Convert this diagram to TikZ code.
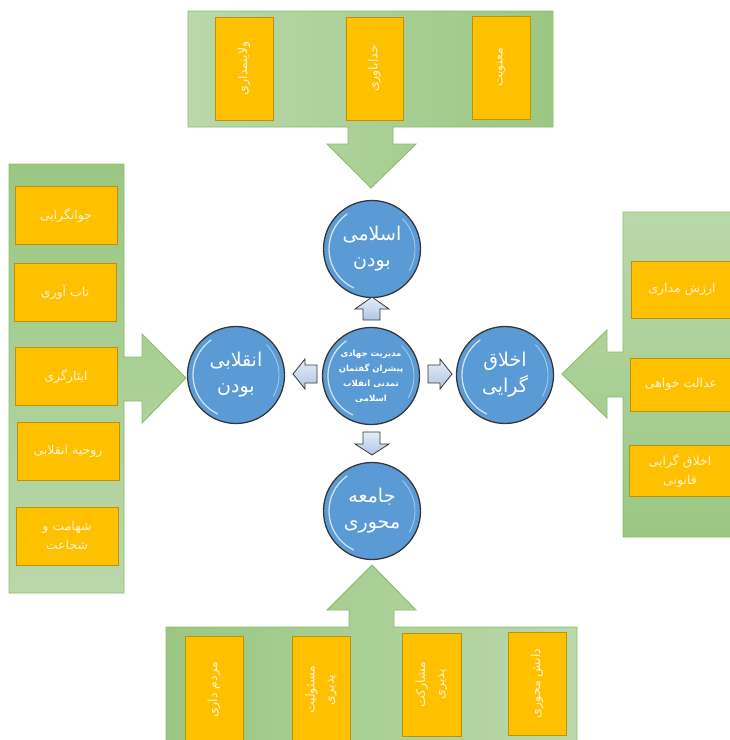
\documentclass[tikz,border=0pt]{standalone}
\usepackage{fontspec}
\newfontfamily\arabicfont[Script=Arabic]{DejaVu Sans}
\TeXXeTstate=1
\definecolor{gdark}{RGB}{155,199,130}
\definecolor{glight}{RGB}{186,216,170}
\definecolor{gline}{RGB}{138,188,108}
\definecolor{ybox}{RGB}{255,192,0}
\definecolor{yline}{RGB}{190,145,10}
\definecolor{ytext}{RGB}{255,244,214}
\definecolor{cblue}{RGB}{91,155,213}
\definecolor{cline}{RGB}{55,55,55}
\definecolor{alight}{RGB}{228,236,247}
\definecolor{amid}{RGB}{176,198,228}
\newcommand{\artx}[1]{{\arabicfont\beginR #1\endR}}
\tikzset{
  panel/.style={draw=gline, line width=0.9pt},
  ybx/.style={rectangle, fill=ybox, draw=yline, line width=0.9pt, text=ytext,
    font=\arabicfont\fontsize{12.5}{19}\selectfont, align=center, inner sep=1pt},
  circ/.style={circle, minimum size=97pt, fill=cblue, draw=cline, line width=1.3pt,
    text=white, font=\arabicfont\fontsize{19}{26}\selectfont, align=center, inner sep=0pt},
  smarrow/.style={draw=cline, line width=0.8pt, top color=alight, bottom color=amid},
  hilite/.style={white, opacity=0.7, line width=1.3pt}
}
\begin{document}
\begin{tikzpicture}[x=1pt,y=-1pt]
\useasboundingbox (0,0) rectangle (730,740);
\begin{scope}
\clip (0,0) rectangle (730,740);
% top panel with arrow
\path[panel, left color=glight, right color=gdark]
  (188,11) -- (553,11) -- (553,127) -- (393,127) -- (393,144) -- (416,144) -- (371,188)
  -- (327,144) -- (348,144) -- (348,127) -- (188,127) -- cycle;
% left panel with arrow
\path[panel, top color=gdark, bottom color=glight]
  (9,164) -- (124,164) -- (124,357) -- (142,357) -- (142,334) -- (186,378) -- (142,423)
  -- (142,401) -- (124,401) -- (124,593) -- (9,593) -- cycle;
% right panel with arrow
\path[panel, top color=glight, bottom color=gdark]
  (623,212) -- (745,212) -- (745,537) -- (623,537) -- (623,397) -- (607,397) -- (607,418)
  -- (562,374) -- (607,330) -- (607,352) -- (623,352) -- cycle;
% bottom panel with arrow
\path[panel, left color=gdark, right color=glight]
  (166,627) -- (349,627) -- (349,610) -- (327,610) -- (372,565) -- (416,610) -- (394,610)
  -- (394,627) -- (577,627) -- (577,750) -- (166,750) -- cycle;

% top boxes
\node[ybx, rotate=90, minimum width=103pt, minimum height=58pt] (t1) at (244,68.5) {\artx{ولایتمداری}};
\node[ybx, rotate=90, minimum width=103pt, minimum height=57pt] (t2) at (374.5,68.5) {\artx{خداباوری}};
\node[ybx, rotate=90, minimum width=103pt, minimum height=58pt] (t3) at (501,67.5) {\artx{معنویت}};

% left boxes
\node[ybx, minimum width=102pt, minimum height=58pt] (l1) at (66,215) {\artx{جوانگرایی}};
\node[ybx, minimum width=102pt, minimum height=58pt] (l2) at (65,292) {\artx{تاب آوری}};
\node[ybx, minimum width=102pt, minimum height=58pt] (l3) at (66,376) {\artx{ایثارگری}};
\node[ybx, minimum width=102pt, minimum height=58pt] (l4) at (68,451) {\artx{روحیه انقلابی}};
\node[ybx, minimum width=102pt, minimum height=58pt] (l5) at (67,536) {\artx{شهامت و}\\\artx{شجاعت}};

% right boxes
\node[ybx, minimum width=102pt, minimum height=57pt] (r1) at (682,289.5) {\artx{ارزش مداری}};
\node[ybx, minimum width=102pt, minimum height=53pt] (r2) at (681,384.5) {\artx{عدالت خواهی}};
\node[ybx, minimum width=102pt, minimum height=51pt] (r3) at (680,470.5) {\artx{اخلاق گرایی}\\\artx{قانونی}};

% bottom boxes
\node[ybx, rotate=90, minimum width=108pt, minimum height=58pt] (b1) at (214,690) {\artx{مردم داری}};
\node[ybx, rotate=90, minimum width=108pt, minimum height=58pt] (b2) at (321,690) {\artx{مسئولیت}\\\artx{پذیری}};
\node[ybx, rotate=90, minimum width=103pt, minimum height=59pt] (b3) at (431.5,684.5) {\artx{مشارکت}\\\artx{پذیری}};
\node[ybx, rotate=90, minimum width=103pt, minimum height=58pt] (b4) at (537,683.5) {\artx{دانش محوری}};
\end{scope}

% circles
\node[circ, font=\arabicfont\bfseries\fontsize{8.5}{15}\selectfont] (c0) at (371,376)
  {\artx{مدیریت جهادی}\\\artx{پیشران گفتمان}\\\artx{تمدنی انقلاب}\\\artx{اسلامی}};
\node[circ] (ctop) at (372,249) {\artx{اسلامی}\\\artx{بودن}};
\node[circ] (cbot) at (372,511) {\artx{جامعه}\\\artx{محوری}};
\node[circ] (cleft) at (236,375) {\artx{انقلابی}\\\artx{بودن}};
\node[circ] (cright) at (505,375) {\artx{اخلاق}\\\artx{گرایی}};

\foreach \c in {c0,ctop,cbot,cleft,cright}{
  \draw[hilite] ([shift={(115:43)}]\c.center) arc (115:235:43);
  \draw[hilite, opacity=0.45, line width=0.9pt] ([shift={(-45:43)}]\c.center) arc (-45:30:43);
}

% small block arrows
\draw[smarrow] (372,297) -- (389,309) -- (380,309) -- (380,320) -- (363,320) -- (363,309) -- (355,309) -- cycle;
\draw[smarrow] (372,455) -- (389,444) -- (380,444) -- (380,432) -- (363,432) -- (363,444) -- (355,444) -- cycle;
\draw[smarrow] (293,374) -- (305,359) -- (305,365) -- (317,365) -- (317,383) -- (305,383) -- (305,389) -- cycle;
\draw[smarrow] (452,374) -- (440,359) -- (440,365) -- (428,365) -- (428,383) -- (440,383) -- (440,389) -- cycle;
\end{tikzpicture}
\end{document}
